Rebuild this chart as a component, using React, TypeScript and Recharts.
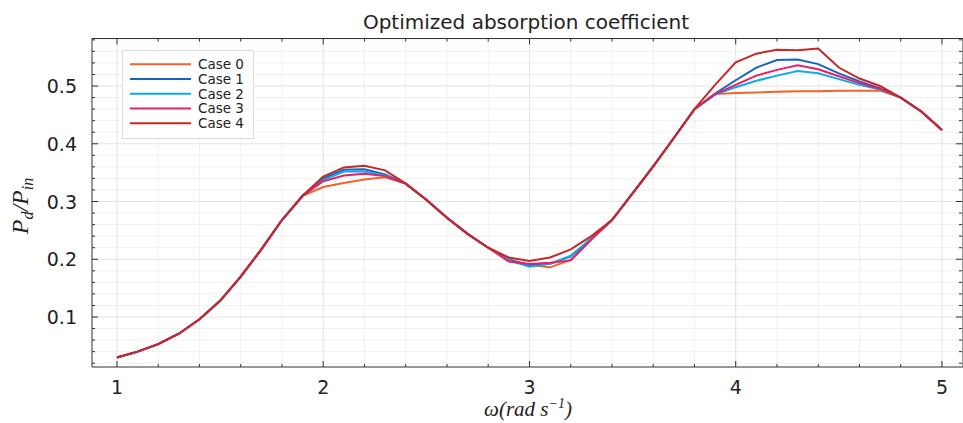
import React from 'react';
import { LineChart, Line, XAxis, YAxis, CartesianGrid, ReferenceArea, Legend } from 'recharts';

// ---------- data ----------
const OMEGA = [
  1.0, 1.1, 1.2, 1.3, 1.4, 1.5, 1.6, 1.7, 1.8, 1.9,
  2.0, 2.1, 2.2, 2.3, 2.4, 2.5, 2.6, 2.7, 2.8, 2.9,
  3.0, 3.1, 3.2, 3.3, 3.4, 3.5, 3.6, 3.7, 3.8, 3.9,
  4.0, 4.1, 4.2, 4.3, 4.4, 4.5, 4.6, 4.7, 4.8, 4.9, 5.0,
];

const CASE0 = [
  0.030, 0.040, 0.053, 0.071, 0.096, 0.128, 0.170, 0.217, 0.268, 0.310,
  0.325, 0.332, 0.338, 0.342, 0.331, 0.303, 0.272, 0.244, 0.220, 0.199,
  0.190, 0.186, 0.199, 0.235, 0.268, 0.314, 0.361, 0.410, 0.460, 0.486,
  0.488, 0.489, 0.490, 0.491, 0.491, 0.492, 0.492, 0.492, 0.480, 0.456, 0.424,
];
const CASE1 = [
  0.030, 0.040, 0.053, 0.071, 0.096, 0.128, 0.170, 0.217, 0.268, 0.310,
  0.340, 0.355, 0.356, 0.347, 0.331, 0.303, 0.272, 0.244, 0.220, 0.199,
  0.190, 0.192, 0.205, 0.236, 0.268, 0.314, 0.361, 0.410, 0.460, 0.487,
  0.510, 0.532, 0.545, 0.546, 0.538, 0.522, 0.508, 0.496, 0.480, 0.456, 0.424,
];
const CASE2 = [
  0.030, 0.040, 0.053, 0.071, 0.096, 0.128, 0.170, 0.217, 0.268, 0.310,
  0.337, 0.352, 0.352, 0.345, 0.331, 0.303, 0.272, 0.244, 0.220, 0.198,
  0.187, 0.192, 0.206, 0.236, 0.268, 0.314, 0.361, 0.410, 0.460, 0.485,
  0.498, 0.509, 0.518, 0.526, 0.522, 0.512, 0.502, 0.494, 0.480, 0.456, 0.424,
];
const CASE3 = [
  0.030, 0.040, 0.053, 0.071, 0.096, 0.128, 0.170, 0.217, 0.268, 0.310,
  0.335, 0.345, 0.348, 0.344, 0.331, 0.303, 0.272, 0.244, 0.220, 0.196,
  0.192, 0.194, 0.198, 0.234, 0.268, 0.314, 0.361, 0.410, 0.460, 0.486,
  0.502, 0.518, 0.528, 0.536, 0.529, 0.517, 0.505, 0.495, 0.480, 0.456, 0.424,
];
const CASE4 = [
  0.030, 0.040, 0.053, 0.071, 0.096, 0.128, 0.170, 0.217, 0.268, 0.310,
  0.343, 0.359, 0.362, 0.354, 0.331, 0.303, 0.272, 0.244, 0.220, 0.203,
  0.197, 0.203, 0.217, 0.240, 0.268, 0.314, 0.361, 0.410, 0.460, 0.502,
  0.541, 0.556, 0.563, 0.562, 0.565, 0.532, 0.513, 0.500, 0.480, 0.456, 0.424,
];

const SERIES_NAMES = ['Case 0', 'Case 1', 'Case 2', 'Case 3', 'Case 4'];
const SERIES_VALUES = [CASE0, CASE1, CASE2, CASE3, CASE4];
const SERIES_COLORS = ['#f8602a', '#1565c0', '#0aaaf0', '#e91e63', '#c62828'];

const X_MAJOR = [1, 2, 3, 4, 5];
const X_MINOR = [1.2, 1.4, 1.6, 1.8, 2.2, 2.4, 2.6, 2.8, 3.2, 3.4, 3.6, 3.8, 4.2, 4.4, 4.6, 4.8];
const Y_MAJOR = [0.1, 0.2, 0.3, 0.4, 0.5];
const Y_MINOR = [
  0.02, 0.04, 0.06, 0.08, 0.12, 0.14, 0.16, 0.18, 0.22, 0.24, 0.26, 0.28,
  0.32, 0.34, 0.36, 0.38, 0.42, 0.44, 0.46, 0.48, 0.52, 0.54, 0.56, 0.58,
];

const TITLE = 'Optimized absorption coefficient';

// ---------- layout ----------
const W = 963;
const H = 423;
const LEFT = 92;
const TOP = 38.5;
const RIGHT = 963;
const BOTTOM = 367;
const X_DOMAIN: [number, number] = [0.879, 5.102];
const Y_DOMAIN: [number, number] = [0.01342, 0.5823];
const YW = 60;
const XH = 30;
const SANS = 'DejaVu Sans';
const SERIF = '"Liberation Serif", "DejaVu Serif", serif';

const rows = OMEGA.map((x, i) => {
  const r: Record<string, number> = { x };
  SERIES_VALUES.forEach((vals, k) => {
    r['c' + k] = vals[i];
  });
  return r;
});

const isIn = (arr: number[], v: number) => arr.some((m) => Math.abs(m - v) < 1e-6);

const XTick = (props: any) => {
  const { x, payload } = props;
  const v = payload.value;
  const major = isIn(X_MAJOR, v);
  const len = major ? 6 : 3;
  return (
    <g>
      <line x1={x} x2={x} y1={BOTTOM} y2={BOTTOM - len} stroke="#333" strokeWidth={1} />
      <line x1={x} x2={x} y1={TOP} y2={TOP + len} stroke="#333" strokeWidth={1} />
      {major && (
        <text x={x} y={394} textAnchor="middle" fontSize={19} fontFamily={SANS} fill="#222">
          {v}
        </text>
      )}
    </g>
  );
};

const YTick = (props: any) => {
  const { y, payload } = props;
  const v = payload.value;
  const major = isIn(Y_MAJOR, v);
  const len = major ? 6 : 3;
  return (
    <g>
      <line x1={LEFT} x2={LEFT + len} y1={y} y2={y} stroke="#333" strokeWidth={1} />
      <line x1={RIGHT - 1} x2={RIGHT - 1 - len} y1={y} y2={y} stroke="#333" strokeWidth={1} />
      {major && (
        <text x={77} y={y + 7} textAnchor="end" fontSize={19} fontFamily={SANS} fill="#222">
          {v.toFixed(1)}
        </text>
      )}
    </g>
  );
};

const renderLegend = () => (
  <svg width={132} height={89} style={{ display: 'block' }}>
    <rect x={0.5} y={0.5} width={131} height={88} fill="#fff" stroke="#dcdcdc" />
    {SERIES_NAMES.map((name, i) => {
      const cy = 14.3 + i * 14.75;
      return (
        <g key={name}>
          <line x1={8} x2={69} y1={cy} y2={cy} stroke={SERIES_COLORS[i]} strokeWidth={2} />
          <text x={76} y={cy + 4.8} fontSize={13.5} fontFamily={SANS} fill="#222">
            {name}
          </text>
        </g>
      );
    })}
  </svg>
);

const XLabel = () => (
  <text x={528} y={416} textAnchor="middle" fontSize={21} fontFamily={SERIF} fontStyle="italic" fill="#222">
    ω(rad s
    <tspan dy={-8} fontSize={14}>−1</tspan>
    <tspan dy={8}>)</tspan>
  </text>
);

const YLabel = () => (
  <text
    x={0}
    y={0}
    transform="translate(28, 206) rotate(-90)"
    textAnchor="middle"
    fontSize={24}
    fontFamily={SERIF}
    fontStyle="italic"
    fill="#222"
  >
    P<tspan dy={5} fontSize={16}>d</tspan>
    <tspan dy={-5}>/P</tspan>
    <tspan dy={5} fontSize={16}>in</tspan>
  </text>
);

export default function App() {
  return (
    <div style={{ position: 'absolute', left: 0, top: 0, width: W, height: H, background: '#fff' }}>
      <LineChart
        width={W}
        height={H}
        data={rows}
        margin={{ top: TOP, right: W - RIGHT, bottom: H - BOTTOM - XH, left: LEFT - YW }}
      >
        <text x={526} y={29} textAnchor="middle" fontSize={20} fontFamily={SANS} fill="#222">
          {TITLE}
        </text>
        <CartesianGrid stroke="#f1f1f1" strokeWidth={1} horizontalValues={Y_MINOR} verticalValues={X_MINOR} />
        <CartesianGrid stroke="#e3e3e3" strokeWidth={1} horizontalValues={Y_MAJOR} verticalValues={X_MAJOR} />
        <XAxis
          dataKey="x"
          type="number"
          domain={X_DOMAIN}
          ticks={[...X_MAJOR, ...X_MINOR].sort((a, b) => a - b)}
          interval={0}
          allowDataOverflow
          height={XH}
          axisLine={false}
          tickLine={false}
          tick={<XTick />}
          label={{ content: () => <XLabel /> }}
        />
        <YAxis
          type="number"
          domain={Y_DOMAIN}
          ticks={[...Y_MAJOR, ...Y_MINOR].sort((a, b) => a - b)}
          interval={0}
          allowDataOverflow
          width={YW}
          axisLine={false}
          tickLine={false}
          tick={<YTick />}
          label={{ content: () => <YLabel /> }}
        />
        <ReferenceArea
          x1={X_DOMAIN[0]}
          x2={X_DOMAIN[1]}
          y1={Y_DOMAIN[0]}
          y2={Y_DOMAIN[1]}
          fill="none"
          fillOpacity={0}
          stroke="#333"
          strokeWidth={1}
          ifOverflow="visible"
        />
        <Legend
          layout="horizontal"
          verticalAlign="middle"
          align="center"
          content={renderLegend}
          wrapperStyle={{ position: 'absolute', left: 122, top: 50, width: 132, height: 89 }}
        />
        {SERIES_NAMES.map((name, k) => (
          <Line
            key={name}
            name={name}
            dataKey={'c' + k}
            type="linear"
            stroke={SERIES_COLORS[k]}
            strokeWidth={2}
            dot={false}
            activeDot={false}
            isAnimationActive={false}
          />
        ))}
      </LineChart>
    </div>
  );
}
